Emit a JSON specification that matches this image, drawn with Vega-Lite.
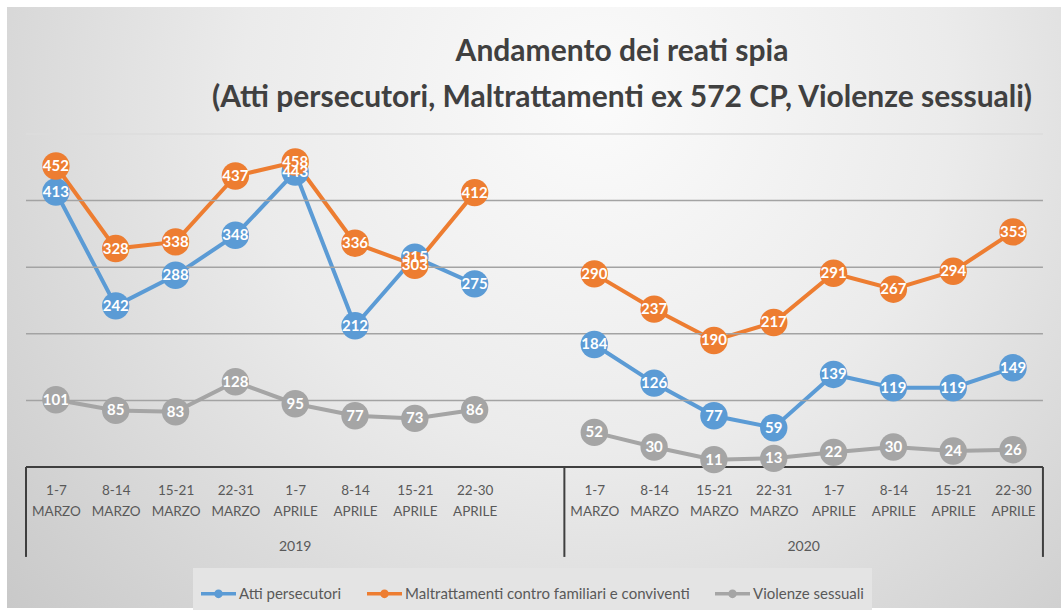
{
  "$schema": "https://vega.github.io/schema/vega-lite/v6.json",
  "width": 1054,
  "height": 601,
  "autosize": {"type": "none"},
  "padding": {"left": 7, "top": 7, "right": 0, "bottom": 2},
  "background": "#ffffff",
  "config": {
    "view": {
      "stroke": null,
      "fill": {
        "gradient": "radial",
        "x1": 0.56, "y1": 0.3, "r1": 0,
        "x2": 0.56, "y2": 0.3, "r2": 0.75,
        "stops": [
          {"offset": 0, "color": "#fbfbfb"},
          {"offset": 0.45, "color": "#ebebeb"},
          {"offset": 1, "color": "#c8c8c8"}
        ]
      }
    }
  },
  "title": {
    "text": ["Andamento dei reati spia", "(Atti persecutori, Maltrattamenti ex 572 CP, Violenze sessuali)"],
    "font": "Lato",
    "fontWeight": "bold",
    "fontSize": 30,
    "color": "#404040",
    "anchor": "middle",
    "baseline": "top",
    "lineHeight": 46,
    "offset": -106,
    "dx": 88
  },
  "datasets": {
    "reati": [
      {"serie": "Atti persecutori", "anno": "2019", "slot": 1, "n": 413},
      {"serie": "Atti persecutori", "anno": "2019", "slot": 2, "n": 242},
      {"serie": "Atti persecutori", "anno": "2019", "slot": 3, "n": 288},
      {"serie": "Atti persecutori", "anno": "2019", "slot": 4, "n": 348},
      {"serie": "Atti persecutori", "anno": "2019", "slot": 5, "n": 443},
      {"serie": "Atti persecutori", "anno": "2019", "slot": 6, "n": 212},
      {"serie": "Atti persecutori", "anno": "2019", "slot": 7, "n": 315},
      {"serie": "Atti persecutori", "anno": "2019", "slot": 8, "n": 275},
      {"serie": "Atti persecutori", "anno": "2020", "slot": 10, "n": 184},
      {"serie": "Atti persecutori", "anno": "2020", "slot": 11, "n": 126},
      {"serie": "Atti persecutori", "anno": "2020", "slot": 12, "n": 77},
      {"serie": "Atti persecutori", "anno": "2020", "slot": 13, "n": 59},
      {"serie": "Atti persecutori", "anno": "2020", "slot": 14, "n": 139},
      {"serie": "Atti persecutori", "anno": "2020", "slot": 15, "n": 119},
      {"serie": "Atti persecutori", "anno": "2020", "slot": 16, "n": 119},
      {"serie": "Atti persecutori", "anno": "2020", "slot": 17, "n": 149},
      {"serie": "Maltrattamenti contro familiari e conviventi", "anno": "2019", "slot": 1, "n": 452},
      {"serie": "Maltrattamenti contro familiari e conviventi", "anno": "2019", "slot": 2, "n": 328},
      {"serie": "Maltrattamenti contro familiari e conviventi", "anno": "2019", "slot": 3, "n": 338},
      {"serie": "Maltrattamenti contro familiari e conviventi", "anno": "2019", "slot": 4, "n": 437},
      {"serie": "Maltrattamenti contro familiari e conviventi", "anno": "2019", "slot": 5, "n": 458},
      {"serie": "Maltrattamenti contro familiari e conviventi", "anno": "2019", "slot": 6, "n": 336},
      {"serie": "Maltrattamenti contro familiari e conviventi", "anno": "2019", "slot": 7, "n": 303},
      {"serie": "Maltrattamenti contro familiari e conviventi", "anno": "2019", "slot": 8, "n": 412},
      {"serie": "Maltrattamenti contro familiari e conviventi", "anno": "2020", "slot": 10, "n": 290},
      {"serie": "Maltrattamenti contro familiari e conviventi", "anno": "2020", "slot": 11, "n": 237},
      {"serie": "Maltrattamenti contro familiari e conviventi", "anno": "2020", "slot": 12, "n": 190},
      {"serie": "Maltrattamenti contro familiari e conviventi", "anno": "2020", "slot": 13, "n": 217},
      {"serie": "Maltrattamenti contro familiari e conviventi", "anno": "2020", "slot": 14, "n": 291},
      {"serie": "Maltrattamenti contro familiari e conviventi", "anno": "2020", "slot": 15, "n": 267},
      {"serie": "Maltrattamenti contro familiari e conviventi", "anno": "2020", "slot": 16, "n": 294},
      {"serie": "Maltrattamenti contro familiari e conviventi", "anno": "2020", "slot": 17, "n": 353},
      {"serie": "Violenze sessuali", "anno": "2019", "slot": 1, "n": 101},
      {"serie": "Violenze sessuali", "anno": "2019", "slot": 2, "n": 85},
      {"serie": "Violenze sessuali", "anno": "2019", "slot": 3, "n": 83},
      {"serie": "Violenze sessuali", "anno": "2019", "slot": 4, "n": 128},
      {"serie": "Violenze sessuali", "anno": "2019", "slot": 5, "n": 95},
      {"serie": "Violenze sessuali", "anno": "2019", "slot": 6, "n": 77},
      {"serie": "Violenze sessuali", "anno": "2019", "slot": 7, "n": 73},
      {"serie": "Violenze sessuali", "anno": "2019", "slot": 8, "n": 86},
      {"serie": "Violenze sessuali", "anno": "2020", "slot": 10, "n": 52},
      {"serie": "Violenze sessuali", "anno": "2020", "slot": 11, "n": 30},
      {"serie": "Violenze sessuali", "anno": "2020", "slot": 12, "n": 11},
      {"serie": "Violenze sessuali", "anno": "2020", "slot": 13, "n": 13},
      {"serie": "Violenze sessuali", "anno": "2020", "slot": 14, "n": 22},
      {"serie": "Violenze sessuali", "anno": "2020", "slot": 15, "n": 30},
      {"serie": "Violenze sessuali", "anno": "2020", "slot": 16, "n": 24},
      {"serie": "Violenze sessuali", "anno": "2020", "slot": 17, "n": 26}
    ],
    "griglia": [{"v": 100}, {"v": 200}, {"v": 300}, {"v": 400}, {"v": 500}],
    "bordi": [{"b": 0.5}, {"b": 9.5}, {"b": 17.5}],
    "anni": [{"anno": "2019", "centro": 5}, {"anno": "2020", "centro": 13.5}]
  },
  "layer": [
    {
      "data": {"name": "reati"},
      "mark": {"type": "line", "strokeWidth": 4},
      "encoding": {
        "x": {
          "field": "slot", "type": "quantitative",
          "scale": {"domain": [0.1824, 17.802], "nice": false, "zero": false},
          "axis": {
            "orient": "bottom", "offset": -141,
            "values": [1, 2, 3, 4, 5, 6, 7, 8, 10, 11, 12, 13, 14, 15, 16, 17],
            "labelExpr": "[['1-7','8-14','15-21','22-31','1-7','8-14','15-21','22-30'][datum.value > 9 ? datum.value - 10 : datum.value - 1], (datum.value > 9 ? datum.value - 10 : datum.value - 1) < 4 ? 'MARZO' : 'APRILE']",
            "domain": false, "ticks": false, "tickSize": 0, "grid": false, "title": null,
            "labelFont": "Lato", "labelFontSize": 13.5, "labelColor": "#595959",
            "labelLineHeight": 21, "labelPadding": 16, "labelFlush": false, "labelOverlap": false, "labelBound": false
          }
        },
        "y": {"field": "n", "type": "quantitative", "scale": {"domain": [-211.7, 690.7], "nice": false, "zero": false}, "axis": null},
        "color": {
          "field": "serie", "type": "nominal",
          "scale": {"domain": ["Atti persecutori", "Maltrattamenti contro familiari e conviventi", "Violenze sessuali"], "range": ["#5b9bd5", "#ed7d31", "#a5a5a5"]},
          "legend": {
            "orient": "none", "legendX": 186, "legendY": 561, "direction": "horizontal", "title": null,
            "symbolType": "M-1,-0.1H1V0.1H-1Z M-0.25,0A0.25,0.25 0 1,1 0.25,0A0.25,0.25 0 1,1 -0.25,0Z",
            "symbolSize": 1225, "symbolStrokeWidth": 0,
            "labelFont": "Lato", "labelFontSize": 15, "labelColor": "#595959", "labelOffset": 3, "labelLimit": 400,
            "columnPadding": 25, "padding": 8, "fillColor": "#e4e4e4", "strokeColor": null
          }
        },
        "detail": {"field": "anno"}
      }
    },
    {
      "data": {"name": "griglia"},
      "mark": {"type": "rule", "strokeWidth": 1.5},
      "encoding": {
        "x": {"datum": 0.5, "type": "quantitative"},
        "x2": {"datum": 17.5},
        "y": {"field": "v", "type": "quantitative", "axis": null},
        "color": {"condition": {"test": "datum.v === 500", "value": "#dcdcdc"}, "value": "#a3a3a3"}
      }
    },
    {
      "data": {"name": "bordi"},
      "mark": {"type": "rule", "strokeWidth": 2, "color": "#3f3f3f"},
      "encoding": {
        "x": {"field": "b", "type": "quantitative"},
        "y": {"datum": 0, "type": "quantitative", "axis": null},
        "y2": {"datum": -135}
      }
    },
    {
      "data": {"name": "bordi"},
      "mark": {"type": "rule", "strokeWidth": 2, "color": "#3f3f3f"},
      "encoding": {
        "x": {"aggregate": "min", "field": "b", "type": "quantitative"},
        "x2": {"aggregate": "max", "field": "b"},
        "y": {"datum": 0, "type": "quantitative", "axis": null}
      }
    },
    {
      "data": {"name": "anni"},
      "mark": {"type": "text", "font": "Lato", "fontSize": 14, "color": "#595959", "align": "center", "baseline": "middle"},
      "encoding": {
        "x": {"field": "centro", "type": "quantitative"},
        "y": {"datum": -120, "type": "quantitative", "axis": null},
        "text": {"field": "anno"}
      }
    },
    {
      "data": {"name": "reati"},
      "mark": {"type": "point", "filled": true, "shape": "circle", "size": 750, "opacity": 1, "strokeWidth": 0},
      "encoding": {
        "x": {"field": "slot", "type": "quantitative"},
        "y": {"field": "n", "type": "quantitative", "axis": null},
        "color": {"field": "serie", "type": "nominal"}
      }
    },
    {
      "data": {"name": "reati"},
      "mark": {"type": "text", "font": "Lato", "fontWeight": "bold", "fontSize": 15, "color": "#ffffff", "align": "center", "baseline": "middle"},
      "encoding": {
        "x": {"field": "slot", "type": "quantitative"},
        "y": {"field": "n", "type": "quantitative", "axis": null},
        "text": {"field": "n"}
      }
    }
  ]
}
